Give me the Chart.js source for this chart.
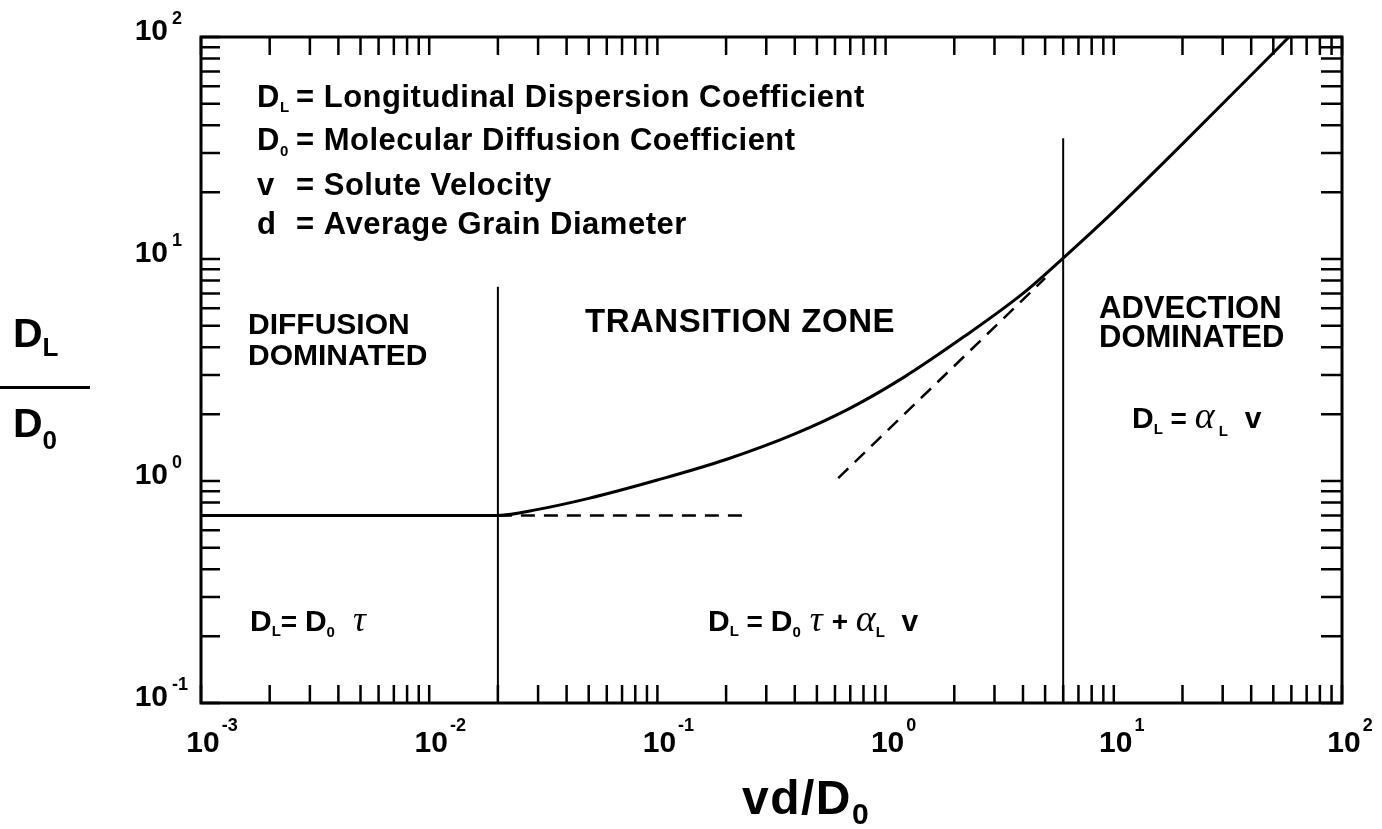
<!DOCTYPE html>
<html>
<head>
<meta charset="utf-8">
<script src="https://cdn.jsdelivr.net/npm/chart.js@4.4.1/dist/chart.umd.min.js"></script>
<style>
html, body { margin: 0; padding: 0; background: #fff; }
#wrap { width: 1382px; height: 829px; }
</style>
</head>
<body>
<div id="wrap"><canvas id="myChart" width="1382" height="829"></canvas></div>
<script>
// values (log-log)
const curveX = [0.001, 0.02, 0.03, 0.05, 0.1, 0.2, 0.4, 0.7, 1.2, 2.2, 4, 6, 10, 20, 58.6]
const curveY = [0.70, 0.70, 0.745, 0.835, 1.01, 1.25, 1.63, 2.13, 2.93, 4.46, 7.0, 10.1, 16.4, 33, 100]

// dashed asymptotes
const diffX = [0.02, 0.24]
const diffY = [0.70, 0.70]
const advX = [0.62, 5.0]
const advY = [1.03, 8.2]

// zone boundaries
const zone1X = [0.02, 0.02]
const zone1Y = [0.1, 7.5]
const zone2X = [6, 6]
const zone2Y = [0.1, 35]

// decade tick labels
const xDecades = [0.001, 0.01, 0.1, 1, 10, 100]
const xExp = ['-3', '-2', '-1', '0', '1', '2']
const yDecades = [0.1, 1, 10, 100]
const yExp = ['-1', '0', '1', '2']

const pts = (xs, ys) => xs.map((x, i) => ({ x: x, y: ys[i] }))
const B = (s) => `bold ${s}px "Liberation Sans", Arial, sans-serif`
const G = (s) => `italic ${s}px "Liberation Serif", "DejaVu Serif", serif`

function rich(ctx, x, y, parts, align) {
    let w = 0
    parts.forEach((p) => { ctx.font = p[1]; w += ctx.measureText(p[0]).width })
    let cx = align === 'center' ? x - w / 2 : (align === 'right' ? x - w : x)
    parts.forEach((p) => {
        ctx.font = p[1]
        ctx.fillText(p[0], cx, y + (p[2] || 0))
        cx += ctx.measureText(p[0]).width
    })
}

const decorations = {
    id: 'decorations',
    afterDraw(chart) {
        const ctx = chart.ctx
        const xs = chart.scales.x
        const ys = chart.scales.y
        const a = chart.chartArea
        ctx.save()
        ctx.fillStyle = '#000'
        ctx.strokeStyle = '#000'
        ctx.textBaseline = 'alphabetic'

        // inward tick marks on all four sides
        ctx.lineWidth = 2.5
        ctx.beginPath()
        xDecades.slice(0, -1).forEach((d) => {
            for (let m = 1; m <= 10; m++) {
                const px = xs.getPixelForValue(d * m)
                ctx.moveTo(px, a.bottom); ctx.lineTo(px, a.bottom - 18)
                ctx.moveTo(px, a.top); ctx.lineTo(px, a.top + 18)
            }
        })
        yDecades.slice(0, -1).forEach((d) => {
            for (let m = 1; m <= 10; m++) {
                const py = ys.getPixelForValue(d * m)
                ctx.moveTo(a.left, py); ctx.lineTo(a.left + 19, py)
                ctx.moveTo(a.right, py); ctx.lineTo(a.right - 21, py)
            }
        })
        ctx.stroke()

        // frame
        ctx.lineWidth = 3
        ctx.strokeRect(a.left, a.top, a.right - a.left, a.bottom - a.top)

        // x tick labels
        xDecades.forEach((d, i) => {
            const px = xs.getPixelForValue(d)
            ctx.font = B(30)
            const w = ctx.measureText('10').width
            ctx.fillText('10', px - w / 2 + 2, 752)
            ctx.font = B(18)
            ctx.fillText(xExp[i], px + w / 2 + 4, 731)
        })
        // y tick labels
        yDecades.forEach((d, i) => {
            const py = ys.getPixelForValue(d)
            ctx.font = B(30)
            const w = ctx.measureText('10').width
            ctx.fillText('10', 168 - w, py + 3)
            ctx.font = B(18)
            ctx.fillText(yExp[i], 172, py - 13)
        })

        // axis titles
        ctx.letterSpacing = '1.5px'
        rich(ctx, 742, 814, [['vd/D', B(48)], ['0', B(30), 10]])
        ctx.letterSpacing = '0px'
        rich(ctx, 13, 347, [['D', B(41)], ['L', B(26), 9]])
        ctx.fillRect(0, 386, 90, 3)
        rich(ctx, 13, 437, [['D', B(41)], ['0', B(26), 12]])

        // definitions
        const defs = [
            [[['D', B(31)], ['L', B(15), 5]], '= Longitudinal Dispersion Coefficient', 107],
            [[['D', B(31)], ['0', B(15), 6]], '= Molecular Diffusion Coefficient', 150],
            [[['v', B(31)]], '= Solute Velocity', 195],
            [[['d', B(31)]], '= Average Grain Diameter', 234]
        ]
        ctx.letterSpacing = '0.5px'
        defs.forEach((r) => {
            rich(ctx, 257, r[2], r[0])
            ctx.font = B(31)
            ctx.fillText(r[1], 296, r[2])
        })

        // zone labels
        ctx.letterSpacing = '0px'
        ctx.font = B(30)
        ctx.fillText('DIFFUSION', 248, 334)
        ctx.fillText('DOMINATED', 248, 365)
        ctx.font = B(33)
        ctx.letterSpacing = '0.5px'
        ctx.fillText('TRANSITION ZONE', 585, 332)
        ctx.letterSpacing = '0px'
        ctx.font = B(31)
        ctx.fillText('ADVECTION', 1099, 318)
        ctx.fillText('DOMINATED', 1099, 347)

        // formulas
        rich(ctx, 250, 631, [['D', B(30)], ['L', B(15), 5], ['= ', B(28)], ['D', B(30)], ['0', B(15), 6], ['  \u03c4', G(36)]])
        rich(ctx, 708, 631, [['D', B(30)], ['L', B(15), 5], [' = ', B(28)], ['D', B(30)], ['0', B(15), 6], [' \u03c4 ', G(36)], ['+ ', B(28)], ['\u03b1', G(38)], ['L', B(15), 6], ['  v', B(30)]])
        rich(ctx, 1132, 428, [['D', B(30)], ['L', B(15), 6], [' = ', B(28)], ['\u03b1', G(38)], [' L', B(15), 8], ['  v', B(30)]])

        ctx.restore()
    }
}

const line = (data, width, dash) => ({
    data: data,
    showLine: true,
    borderColor: '#000',
    backgroundColor: '#000',
    borderWidth: width,
    borderDash: dash || [],
    pointRadius: 0,
    fill: false
})

const curve = line(pts(curveX, curveY), 3)
curve.cubicInterpolationMode = 'monotone'

new Chart(document.getElementById('myChart'), {
    type: 'scatter',
    data: {
        datasets: [
            curve,
            line(pts(diffX, diffY), 2.5, [14, 9]),
            line(pts(advX, advY), 2.5, [14, 9]),
            line(pts(zone1X, zone1Y), 2),
            line(pts(zone2X, zone2Y), 2)
        ]
    },
    options: {
        responsive: false,
        devicePixelRatio: 1,
        animation: false,
        layout: { padding: { left: 201, top: 37, right: 40, bottom: 126 } },
        scales: {
            x: { type: 'logarithmic', min: 0.001, max: 100, display: false },
            y: { type: 'logarithmic', min: 0.1, max: 100, display: false }
        },
        plugins: {
            legend: { display: false },
            tooltip: { enabled: false }
        }
    },
    plugins: [decorations]
})
</script>
</body>
</html>
